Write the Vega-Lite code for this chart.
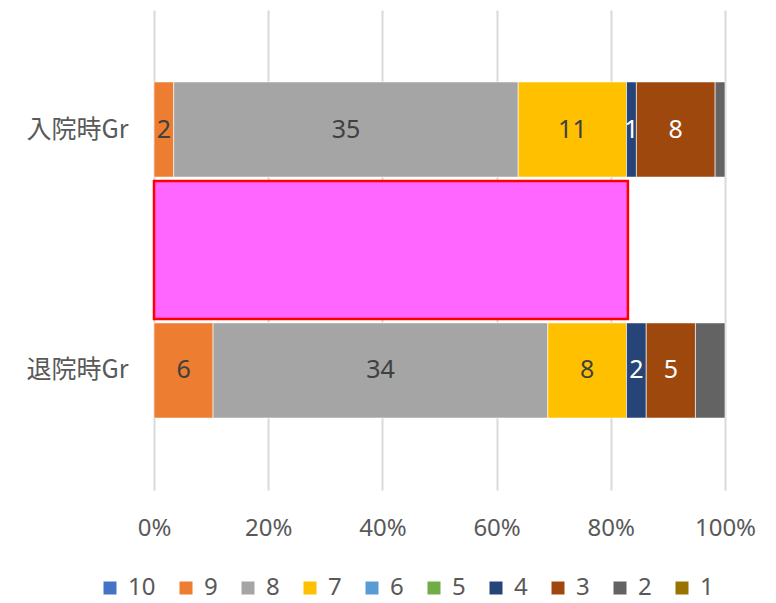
{
  "$schema": "https://vega.github.io/schema/vega-lite/v6.json",
  "width": 571,
  "height": 480,
  "autosize": {"type": "none"},
  "padding": {"left": 154, "top": 10, "right": 51, "bottom": 113},
  "background": "white",
  "config": {
    "view": {"stroke": null},
    "font": "Noto Sans",
    "axis": {"labelFont": "Noto Sans CJK JP", "labelColor": "#595959", "labelFontSize": 25, "domain": false, "ticks": false, "title": null},
    "legend": {"labelFont": "Noto Sans", "labelColor": "#595959", "labelFontSize": 24}
  },
  "encoding": {
    "y": {
      "field": "cat",
      "type": "nominal",
      "scale": {"domain": ["入院時Gr", " ", "退院時Gr"], "paddingInner": 0.21, "paddingOuter": 0.597},
      "axis": {"labelPadding": 26, "grid": false}
    }
  },
  "layer": [
    {
      "data": {"values": [
        {"cat": "入院時Gr", "grade": 9, "n": 2},
        {"cat": "入院時Gr", "grade": 8, "n": 35},
        {"cat": "入院時Gr", "grade": 7, "n": 11},
        {"cat": "入院時Gr", "grade": 4, "n": 1},
        {"cat": "入院時Gr", "grade": 3, "n": 8},
        {"cat": "入院時Gr", "grade": 2, "n": 1},
        {"cat": "退院時Gr", "grade": 9, "n": 6},
        {"cat": "退院時Gr", "grade": 8, "n": 34},
        {"cat": "退院時Gr", "grade": 7, "n": 8},
        {"cat": "退院時Gr", "grade": 4, "n": 2},
        {"cat": "退院時Gr", "grade": 3, "n": 5},
        {"cat": "退院時Gr", "grade": 2, "n": 3}
      ]},
      "layer": [
        {
          "mark": {"type": "bar", "stroke": "white", "strokeWidth": 0.6},
          "encoding": {
            "x": {
              "field": "n", "type": "quantitative", "stack": "normalize",
              "scale": {"domain": [0, 1], "nice": false},
              "axis": {"format": "%", "values": [0, 0.2, 0.4, 0.6, 0.8, 1], "grid": true, "gridColor": "#D9D9D9", "gridWidth": 2, "labelPadding": 26, "labelFont": "Noto Sans", "labelFontSize": 24, "labelFlush": false}
            },
            "color": {
              "field": "grade", "type": "nominal",
              "scale": {
                "domain": [10, 9, 8, 7, 6, 5, 4, 3, 2, 1],
                "range": ["#4472C4", "#ED7D31", "#A5A5A5", "#FFC000", "#5B9BD5", "#70AD47", "#264478", "#9E480E", "#636363", "#997300"]
              },
              "legend": {
                "title": null, "orient": "none", "direction": "horizontal",
                "legendX": -56, "legendY": 566,
                "symbolType": "square", "symbolSize": 169, "symbolStrokeWidth": 0,
                "labelOffset": 6, "columnPadding": 18
              }
            },
            "order": {"field": "grade", "sort": "descending"}
          }
        },
        {
          "transform": [
            {"stack": "n", "groupby": ["cat"], "sort": [{"field": "grade", "order": "descending"}], "offset": "normalize", "as": ["x0", "x1"]},
            {"filter": "datum.grade != 2"},
            {"fold": ["x0", "x1"], "as": ["edge", "pos"]}
          ],
          "mark": {"type": "text", "fontSize": 25, "font": "Noto Sans"},
          "encoding": {
            "x": {"aggregate": "mean", "field": "pos", "type": "quantitative"},
            "detail": {"field": "grade", "type": "nominal"},
            "text": {"field": "n", "type": "quantitative"},
            "color": {"condition": {"test": "datum.grade <= 4", "value": "white"}, "value": "#404040"}
          }
        }
      ]
    },
    {
      "data": {"values": [{"cat": " ", "share": 0.83}]},
      "mark": {"type": "bar", "color": "#FF66FF", "stroke": "#FF0000", "strokeWidth": 2.5, "height": {"band": 1.45}},
      "encoding": {
        "x": {"field": "share", "type": "quantitative"}
      }
    }
  ]
}
